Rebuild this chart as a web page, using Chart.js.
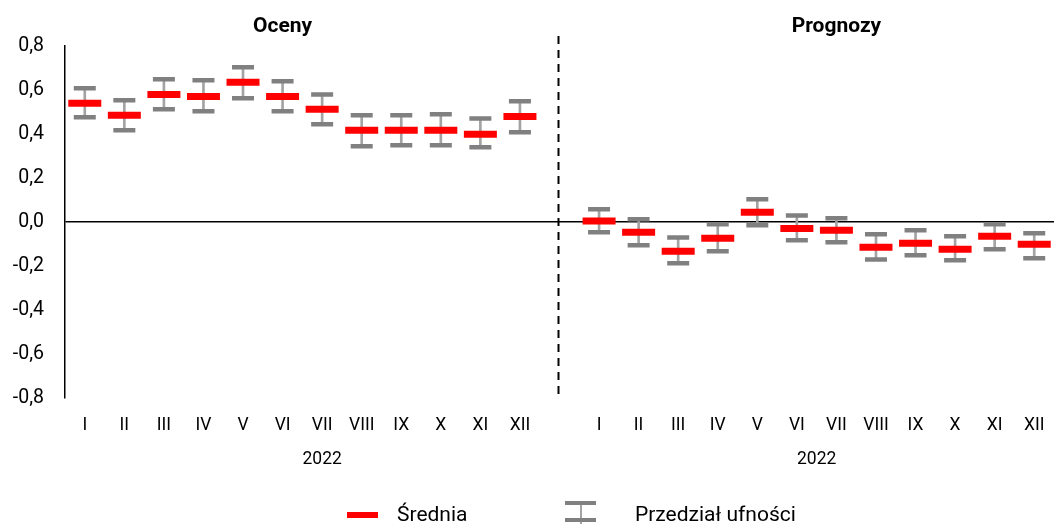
<!DOCTYPE html>
<html>
<head>
<meta charset="utf-8">
<script src="https://cdn.jsdelivr.net/npm/chart.js@4/dist/chart.umd.min.js"></script>
<style>
  html, body { margin: 0; padding: 0; background: #fff; }
  #wrap { width: 1054px; height: 525px; }
</style>
</head>
<body>
<div id="wrap"><canvas id="chart" width="1054" height="525"></canvas></div>
<script>
// Oceny (I-XII 2022), a gap, then Prognozy (I-XII 2022)
const categories = ['I','II','III','IV','V','VI','VII','VIII','IX','X','XI','XII', '',
  'I','II','III','IV','V','VI','VII','VIII','IX','X','XI','XII'];

const meanValues = [0.54, 0.485, 0.58, 0.571, 0.635, 0.571, 0.512, 0.417, 0.417, 0.417, 0.399, 0.48, null,
  0.004, -0.047, -0.133, -0.074, 0.044, -0.029, -0.038, -0.115, -0.097, -0.124, -0.065, -0.101];
const upperValues = [0.608, 0.553, 0.649, 0.644, 0.703, 0.64, 0.58, 0.485, 0.485, 0.49, 0.471, 0.549, null,
  0.058, 0.012, -0.07, -0.01, 0.103, 0.03, 0.017, -0.056, -0.038, -0.065, -0.01, -0.051];
const lowerValues = [0.476, 0.417, 0.512, 0.503, 0.562, 0.503, 0.444, 0.344, 0.349, 0.349, 0.34, 0.408, null,
  -0.047, -0.106, -0.188, -0.133, -0.015, -0.083, -0.092, -0.17, -0.151, -0.174, -0.124, -0.165];

const yTicks = [-0.8, -0.6, -0.4, -0.2, 0, 0.2, 0.4, 0.6, 0.8];
const groupTitles = ['Oceny', 'Prognozy'];
const yearLabels = ['2022', '2022'];
const legendLabels = ['Średnia', 'Przedział ufności'];

const FONT = 'Roboto, "Liberation Sans", sans-serif';
const RED = '#ff0000';
const GREY = '#808080';
const STEM = '#a3a3a3';

const whiskers = categories.map((c, i) => lowerValues[i] == null ? null : [lowerValues[i], upperValues[i]]);

// titles, dashed divider, year labels, legend
const overlay = {
  id: 'overlay',
  beforeDatasetsDraw(chart) {
    const { ctx, chartArea, scales: { x } } = chart;
    const xd = x.getPixelForValue(12) - 1;
    ctx.save();
    ctx.strokeStyle = '#000';
    ctx.lineWidth = 2;
    ctx.setLineDash([8, 6]);
    ctx.beginPath();
    ctx.moveTo(xd, chartArea.top - 10);
    ctx.lineTo(xd, chartArea.bottom);
    ctx.stroke();
    ctx.restore();
  },
  afterDraw(chart) {
    const { ctx, scales: { x } } = chart;
    ctx.save();
    ctx.fillStyle = '#000';
    ctx.textAlign = 'center';
    ctx.textBaseline = 'middle';

    ctx.font = 'bold 21px ' + FONT;
    ctx.fillText(groupTitles[0], x.getPixelForValue(5), 27);
    ctx.fillText(groupTitles[1], x.getPixelForValue(19), 27);

    ctx.font = '17.5px ' + FONT;
    ctx.fillText(yearLabels[0], x.getPixelForValue(6), 460);
    ctx.fillText(yearLabels[1], (x.getPixelForValue(18) + x.getPixelForValue(19)) / 2, 460);

    // legend
    const ly = 515;
    ctx.fillStyle = RED;
    ctx.fillRect(347, ly - 3, 31, 6);
    ctx.fillStyle = STEM;
    ctx.fillRect(580, ly - 11, 2, 20);
    ctx.fillStyle = GREY;
    ctx.fillRect(565, ly - 14, 31, 4);
    ctx.fillRect(565, ly + 3, 31, 4);

    ctx.fillStyle = '#000';
    ctx.textAlign = 'left';
    ctx.font = '21px ' + FONT;
    ctx.fillText(legendLabels[0], 397, ly + 1);
    ctx.fillText(legendLabels[1], 635, ly + 1);
    ctx.restore();
  }
};

new Chart(document.getElementById('chart'), {
  type: 'bar',
  data: {
    labels: categories,
    datasets: [
      {
        label: legendLabels[0],
        type: 'line',
        data: meanValues,
        showLine: false,
        pointStyle: 'line',
        pointRadius: 16.5,
        pointBorderWidth: 7,
        borderColor: RED,
        backgroundColor: RED,
        order: 0
      },
      {
        label: 'upper',
        type: 'line',
        data: upperValues,
        showLine: false,
        pointStyle: 'line',
        pointRadius: 11,
        pointBorderWidth: 4.5,
        borderColor: GREY,
        backgroundColor: GREY,
        order: 1
      },
      {
        label: 'lower',
        type: 'line',
        data: lowerValues,
        showLine: false,
        pointStyle: 'line',
        pointRadius: 11,
        pointBorderWidth: 4.5,
        borderColor: GREY,
        backgroundColor: GREY,
        order: 1
      },
      {
        label: legendLabels[1],
        data: whiskers,
        backgroundColor: STEM,
        barThickness: 2,
        order: 2
      }
    ]
  },
  options: {
    responsive: false,
    animation: false,
    events: [],
    layout: { autoPadding: false, padding: { top: 46, right: 0, left: 0, bottom: 0 } },
    plugins: {
      legend: { display: false },
      tooltip: { enabled: false }
    },
    scales: {
      x: {
        offset: true,
        // invisible tick marks push the labels down without adding side padding
        grid: { display: true, drawOnChartArea: false, drawTicks: true, tickLength: 17, tickColor: 'rgba(0,0,0,0)' },
        border: { display: false },
        ticks: {
          autoSkip: false,
          maxRotation: 0,
          padding: 0,
          color: '#000',
          font: { family: FONT, size: 17.5 }
        },
        afterFit: (s) => { s.height = 127; }
      },
      y: {
        min: -0.8,
        max: 0.8,
        afterBuildTicks: (s) => { s.ticks = yTicks.map(v => ({ value: v })); },
        grid: {
          drawTicks: false,
          color: (c) => c.tick && c.tick.value === 0 ? '#000' : 'rgba(0,0,0,0)',
          lineWidth: 1.5
        },
        border: { display: true, color: '#000', width: 1.5 },
        ticks: {
          padding: 21,
          color: '#000',
          font: { family: FONT, size: 19.5 },
          callback: (v) => v.toFixed(1).replace('.', ',')
        },
        afterFit: (s) => { s.width = 65; }
      }
    }
  },
  plugins: [overlay]
});
</script>
</body>
</html>
